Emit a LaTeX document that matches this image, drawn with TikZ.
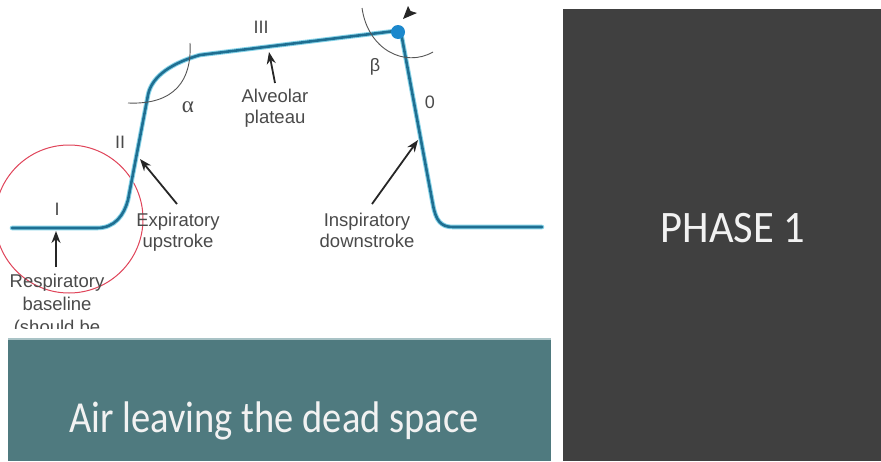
\documentclass[tikz,border=0pt]{standalone}
\usepackage{fontspec}
\setmainfont{Liberation Sans}
\newfontfamily\calib{Carlito}
\newfontfamily\serifgr{Liberation Serif}
\usetikzlibrary{arrows.meta}
\definecolor{panel}{HTML}{404040}
\definecolor{tealbox}{HTML}{4F7A7F}
\definecolor{tealedge}{HTML}{A9C3C6}
\definecolor{curvecore}{HTML}{1F6F92}
\definecolor{curvehalo}{HTML}{86D3E8}
\definecolor{dotblue}{HTML}{1C88CC}
\definecolor{labelgray}{HTML}{4A4A4A}
\definecolor{arcgray}{HTML}{555555}
\definecolor{ringred}{HTML}{E0455A}
\tikzset{
  lbl/.style={font=\fontsize{18.5}{20.5}\selectfont, text=labelgray, align=center, inner sep=0pt, anchor=base},
  roman/.style={font=\fontsize{18}{20}\selectfont, text=labelgray, inner sep=0pt, anchor=base},
  pointer/.style={draw=black!85, line width=1.8pt, -{Stealth[length=12pt,width=9pt]}},
  anglearc/.style={draw=arcgray, line width=0.9pt},
  halo/.style={draw=curvehalo, line width=4.6pt, line join=round, line cap=round},
  core/.style={draw=curvecore, line width=2.6pt, line join=round, line cap=round},
}
\begin{document}
\begin{tikzpicture}[x=1pt,y=-1pt]
\useasboundingbox (0,0) rectangle (881,461);
\fill[white] (0,0) rectangle (881,461);
% right panel
\fill[panel] (563,9) rectangle (881,461);
\node[font=\calib\fontsize{42.5}{46}\selectfont, text=white!95!black, anchor=base, inner sep=0pt] (phase) at (733,242) {\scalebox{1}[1.06]{PHASE 1}};
% bottom teal box
\fill[tealbox] (8,339) rectangle (551,461);
\draw[tealedge, line width=1.2pt] (8,339) -- (551,339);
\node[font=\calib\fontsize{38.5}{42}\selectfont, text=white!95!black, anchor=base, inner sep=0pt] (air) at (274,432) {\scalebox{1}[1.15]{Air leaving the dead space}};
% diagram
\begin{scope}
\clip (0,0) rectangle (560,328);
\draw[ringred, line width=1pt] (69,219) circle[radius=74pt];
\path[halo] (12,228) -- (97,228) .. controls (115,228) and (124,215) .. (128,200) -- (148,95) .. controls (151,80) and (165,65) .. (200,55) -- (395,31) .. controls (400,30) and (401,33) .. (402,38) -- (433,205) .. controls (436,221) and (441,227) .. (453,227) -- (542,227);
\path[core] (12,228) -- (97,228) .. controls (115,228) and (124,215) .. (128,200) -- (148,95) .. controls (151,80) and (165,65) .. (200,55) -- (395,31) .. controls (400,30) and (401,33) .. (402,38) -- (433,205) .. controls (436,221) and (441,227) .. (453,227) -- (542,227);
\fill[dotblue] (398,32) circle[radius=7pt];
\path[anglearc] (128,103) .. controls (175,105) and (192,80) .. (190,43);
\path[anglearc] (362,8) .. controls (368,50) and (405,68) .. (433,52);
\fill[black!85] (403,19) -- (408,6) -- (410.5,11) -- (417,13) -- cycle;
% labels
\node[roman] (r3) at (261,33) {III};
\node[roman] (r2) at (120,148) {II};
\node[roman] (r1) at (57,215) {I};
\node[roman] (r0) at (430,108) {0};
\node[font=\serifgr\fontsize{23}{24}\selectfont, text=labelgray, inner sep=0pt, anchor=base] (alpha) at (188,112) {α};
\node[roman] (beta) at (375,71) {β};
\node[lbl] (alv) at (275,123) {Alveolar\\plateau};
\node[lbl] (exp) at (178,247) {Expiratory\\upstroke};
\node[lbl] (insp) at (367,247) {Inspiratory\\downstroke};
\node[lbl, font=\fontsize{18.5}{23}\selectfont] (resp) at (57,333) {Respiratory\\baseline\\(should be};
% pointers
\coordinate (alvtail) at (275,83);
\coordinate (alvtip) at (269,52);
\coordinate (exptail) at (177,204);
\coordinate (exptip) at (140,159);
\coordinate (insptail) at (372,204);
\coordinate (insptip) at (418,140);
\coordinate (resptail) at (56,267);
\coordinate (resptip) at (56,231);
\draw[pointer] (alvtail) -- (alvtip);
\draw[pointer] (exptail) -- (exptip);
\draw[pointer] (insptail) -- (insptip);
\draw[pointer] (resptail) -- (resptip);
\end{scope}
\end{tikzpicture}
\end{document}
